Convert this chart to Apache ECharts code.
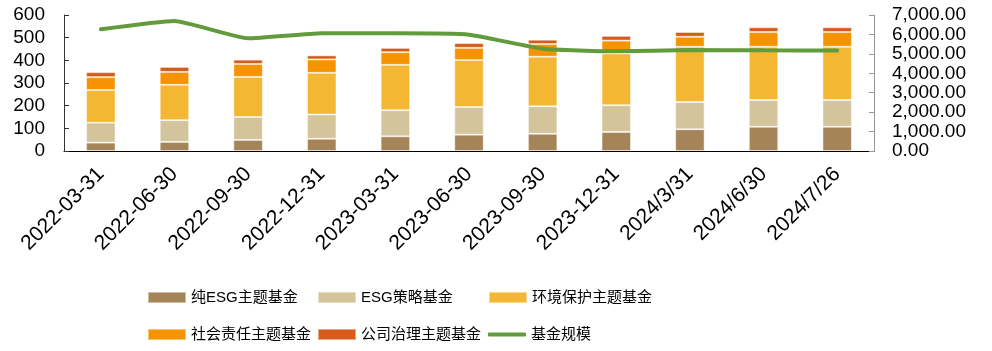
<!DOCTYPE html>
<html>
<head>
<meta charset="utf-8">
<script src="https://cdn.jsdelivr.net/npm/echarts@6/dist/echarts.min.js"></script>
<style>
html,body{margin:0;padding:0;background:#fff;}
#c{width:992px;height:351px;}
</style>
</head>
<body>
<div id="c"></div>
<script>
var categories = ['2022-03-31','2022-06-30','2022-09-30','2022-12-31','2023-03-31','2023-06-30','2023-09-30','2023-12-31','2024/3/31','2024/6/30','2024/7/26'];
var pureESG      = [37, 40, 49, 54, 65, 72, 76, 84, 96, 107, 107];
var esgStrategy  = [88, 96, 101, 107, 115, 122, 121, 118, 120, 118, 118];
var environment  = [144, 156, 177, 184, 200, 207, 219, 228, 244, 235, 235];
var social       = [57, 57, 57, 59, 56, 54, 56, 57, 44, 65, 65];
var governance   = [22, 22, 19, 18, 19, 21, 19, 21, 21, 21, 21];
var fundSize     = [6262, 6691, 5799, 6056, 6060, 5988, 5267, 5130, 5198, 5181, 5170];
var leftTicks = [0, 100, 200, 300, 400, 500, 600];
var rightTicks = [0, 1000, 2000, 3000, 4000, 5000, 6000, 7000];

var names = ['纯ESG主题基金','ESG策略基金','环境保护主题基金','社会责任主题基金','公司治理主题基金','基金规模'];
var colors = ['#A6845A','#D4C49C','#F4B733','#F59300','#D75B1A','#629B3B'];
var stacks = [pureESG, esgStrategy, environment, social, governance];

var font = '"Liberation Sans", Arial, "Noto Sans CJK SC", sans-serif';
var legendFont = '"Liberation Sans", "Noto Sans CJK SC", sans-serif';

var series = stacks.map(function(d, i){
  return {
    name: names[i], type: 'bar', stack: 'total', data: d,
    barWidth: '40%',
    itemStyle: {color: colors[i], borderColor: 'rgba(255,255,255,0.45)', borderWidth: 1},
    emphasis: {disabled: true}
  };
});
series.push({
  name: names[5], type: 'line', yAxisIndex: 1, data: fundSize,
  smooth: 0.15, symbol: 'none',
  lineStyle: {color: colors[5], width: 4, cap: 'round'},
  itemStyle: {color: colors[5]},
  emphasis: {disabled: true}
});

var legendPos = [
  {left: 147, top: 290}, {left: 317, top: 290}, {left: 488, top: 290},
  {left: 147, top: 327}, {left: 317, top: 327}, {left: 488, top: 327}
];
var legends = names.map(function(n, i){
  var item = {name: n};
  if (i === 5) { item.icon = 'roundRect'; item.itemStyle = {color: colors[5]}; }
  else { item.icon = 'rect'; }
  return {
    data: [item], left: legendPos[i].left, top: legendPos[i].top, padding: 0,
    itemWidth: 38, itemHeight: i === 5 ? 4 : 11, itemGap: 5,
    textStyle: {fontSize: 15, color: '#000', fontFamily: legendFont, padding: [0,0,0,0]},
    selectedMode: false
  };
});

var chart = echarts.init(document.getElementById('c'), null, {renderer: 'canvas'});
chart.setOption({
  animation: false,
  backgroundColor: '#fff',
  grid: {left: 64, right: 118, top: 15, bottom: 200, containLabel: false},
  legend: legends,
  xAxis: {
    type: 'category', data: categories, boundaryGap: true,
    axisLine: {lineStyle: {color: '#000', width: 1}},
    axisTick: {inside: true, length: 6, lineStyle: {color: '#000'}},
    axisLabel: {rotate: 45, margin: 20, fontSize: 21, color: '#000', fontFamily: font, interval: 0}
  },
  yAxis: [{
    type: 'value', min: leftTicks[0], max: leftTicks[leftTicks.length-1], interval: 100,
    axisLine: {show: true, lineStyle: {color: '#333'}},
    axisTick: {show: true, inside: true, length: 5, lineStyle: {color: '#333'}},
    splitLine: {show: false},
    axisLabel: {margin: 19, fontSize: 19, color: '#000', fontFamily: font}
  }, {
    type: 'value', min: rightTicks[0], max: rightTicks[rightTicks.length-1], interval: 1000,
    position: 'right',
    axisLine: {show: true, lineStyle: {color: '#999'}},
    axisTick: {show: true, inside: true, length: 5, lineStyle: {color: '#999'}},
    splitLine: {show: false},
    axisLabel: {margin: 18, fontSize: 19, color: '#000', fontFamily: font,
      formatter: function(v){ return v.toLocaleString('en-US', {minimumFractionDigits: 2, maximumFractionDigits: 2}); }}
  }],
  series: series
});
</script>
</body>
</html>
